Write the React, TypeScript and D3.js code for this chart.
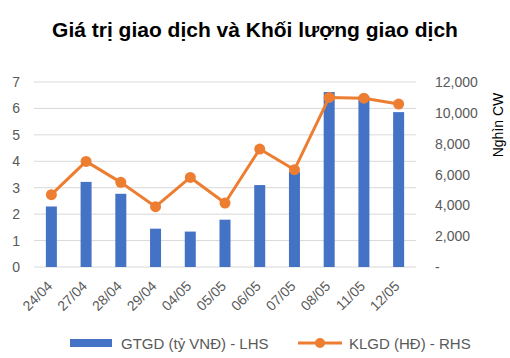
import { useEffect, useRef } from "react";
import * as d3 from "d3";

const categories = ["24/04", "27/04", "28/04", "29/04", "04/05", "05/05", "06/05", "07/05", "08/05", "11/05", "12/05"];
const gtgd = [2.29, 3.22, 2.77, 1.45, 1.34, 1.79, 3.1, 3.6, 6.62, 6.45, 5.86];
const klgd = [4690, 6850, 5490, 3910, 5810, 4150, 7650, 6310, 11000, 10950, 10570];
const leftTicks = [0, 1, 2, 3, 4, 5, 6, 7];
const rightTicks = [0, 2000, 4000, 6000, 8000, 10000, 12000];

const BLUE = "#4472c4";
const ORANGE = "#ed7d31";
const GREY = "#595959";

function renderChart(el: HTMLDivElement) {
  const width = 510, height = 358;
  const plot = { left: 34, right: 416, top: 82, bottom: 267 };

  d3.select(el).selectAll("*").remove();
  const svg = d3
    .select(el)
    .append("svg")
    .attr("width", width)
    .attr("height", height)
    .style("font-family", "'Liberation Sans', Arial, sans-serif");

  svg
    .append("text")
    .attr("x", 255)
    .attr("y", 37)
    .attr("text-anchor", "middle")
    .attr("font-size", 21)
    .attr("font-weight", "bold")
    .attr("fill", "#000")
    .text("Giá trị giao dịch và Khối lượng giao dịch");

  const x = d3.scaleBand().domain(categories).range([plot.left, plot.right]);
  const yL = d3.scaleLinear().domain([0, 7]).range([plot.bottom, plot.top]);
  const yR = d3.scaleLinear().domain([0, 12000]).range([plot.bottom, plot.top]);

  // gridlines
  svg
    .append("g")
    .selectAll("line")
    .data(leftTicks)
    .join("line")
    .attr("x1", plot.left)
    .attr("x2", plot.right)
    .attr("y1", (d) => yL(d))
    .attr("y2", (d) => yL(d))
    .attr("stroke", "#d9d9d9")
    .attr("stroke-width", 1);

  // left axis labels
  svg
    .append("g")
    .selectAll("text")
    .data(leftTicks)
    .join("text")
    .attr("x", 20)
    .attr("y", (d) => yL(d) + 5)
    .attr("text-anchor", "end")
    .attr("font-size", 14)
    .attr("fill", GREY)
    .text((d) => d);

  // right axis labels
  const fmt = d3.format(",");
  svg
    .append("g")
    .selectAll("text")
    .data(rightTicks)
    .join("text")
    .attr("x", 435)
    .attr("y", (d) => yR(d) + 5)
    .attr("text-anchor", "start")
    .attr("font-size", 14)
    .attr("fill", GREY)
    .text((d) => (d === 0 ? "-" : fmt(d)));

  svg
    .append("text")
    .attr("transform", "translate(503,125) rotate(-90)")
    .attr("text-anchor", "middle")
    .attr("font-size", 14)
    .attr("fill", "#000")
    .text("Nghìn CW");

  // bars
  const barW = 11;
  svg
    .append("g")
    .selectAll("rect")
    .data(gtgd)
    .join("rect")
    .attr("x", (d, i) => x(categories[i])! + x.bandwidth() / 2 - barW / 2)
    .attr("y", (d) => yL(d))
    .attr("width", barW)
    .attr("height", (d) => yL(0) - yL(d))
    .attr("fill", BLUE);

  // line
  const line = d3
    .line<number>()
    .x((d, i) => x(categories[i])! + x.bandwidth() / 2)
    .y((d) => yR(d));
  svg
    .append("path")
    .datum(klgd)
    .attr("d", line)
    .attr("fill", "none")
    .attr("stroke", ORANGE)
    .attr("stroke-width", 3)
    .attr("stroke-linejoin", "round");
  svg
    .append("g")
    .selectAll("circle")
    .data(klgd)
    .join("circle")
    .attr("cx", (d, i) => x(categories[i])! + x.bandwidth() / 2)
    .attr("cy", (d) => yR(d))
    .attr("r", 5.5)
    .attr("fill", ORANGE);

  // x labels
  svg
    .append("g")
    .selectAll("text")
    .data(categories)
    .join("text")
    .attr("transform", (d) => `translate(${x(d)! + x.bandwidth() / 2 + 2},${plot.bottom + 20}) rotate(-45)`)
    .attr("text-anchor", "end")
    .attr("font-size", 14)
    .attr("fill", GREY)
    .text((d) => d);

  // legend
  const lg = svg.append("g");
  lg.append("rect").attr("x", 70).attr("y", 339).attr("width", 42).attr("height", 8).attr("fill", BLUE);
  lg.append("text").attr("x", 121).attr("y", 349).attr("font-size", 15).attr("fill", GREY).text("GTGD (tỷ VNĐ) - LHS");
  lg.append("line").attr("x1", 298).attr("x2", 342).attr("y1", 343).attr("y2", 343).attr("stroke", ORANGE).attr("stroke-width", 3);
  lg.append("circle").attr("cx", 320).attr("cy", 343).attr("r", 5).attr("fill", ORANGE);
  lg.append("text").attr("x", 349).attr("y", 349).attr("font-size", 15).attr("fill", GREY).text("KLGD (HĐ) - RHS");
}

export default function App() {
  const ref = useRef<HTMLDivElement>(null);
  useEffect(() => {
    if (ref.current) renderChart(ref.current);
  }, []);
  return <div ref={ref} style={{ position: "absolute", left: 0, top: 0 }}></div>;
}
